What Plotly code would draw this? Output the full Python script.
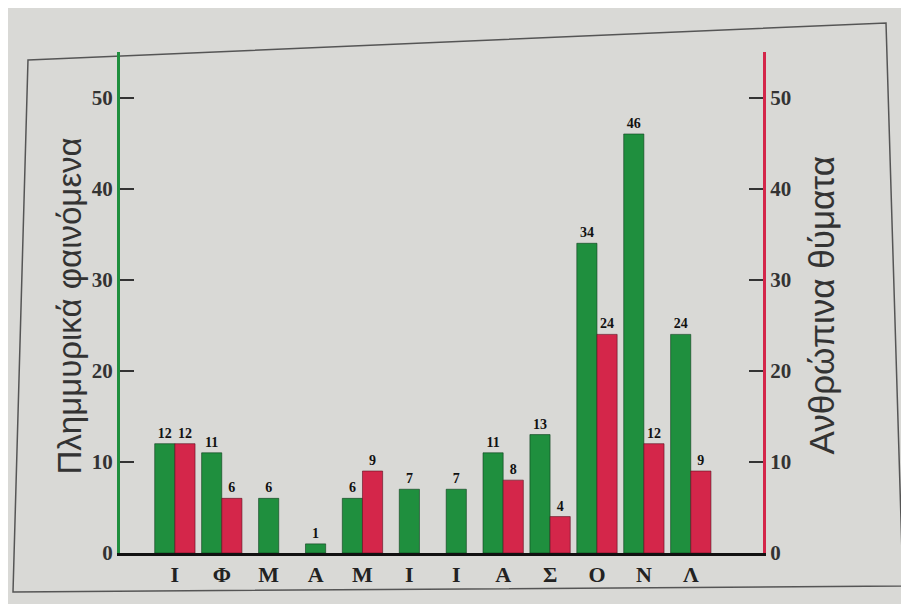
import plotly.graph_objects as go

months = ["Ι", "Φ", "Μ", "Α", "Μ", "Ι", "Ι", "Α", "Σ", "Ο", "Ν", "Λ"]
floods = [12, 11, 6, 1, 6, 7, 7, 11, 13, 34, 46, 24]
victims = [12, 6, None, None, 9, None, None, 8, 4, 24, 12, 9]

GREEN = "#1f8f3e"
RED = "#d4264a"
BG = "#d9d9d6"
W = 0.43

xs = list(range(len(months)))
green_off = [-W if v else -W / 2 for v in victims]

barfont = dict(family="Liberation Serif", size=14, color="#111", weight="bold")

fig = go.Figure()
fig.add_trace(go.Bar(
    x=xs, y=floods, width=W, offset=green_off,
    marker=dict(color=GREEN, line=dict(color="#0d3d1c", width=0.6)),
    text=floods, textposition="outside", cliponaxis=False, textfont=barfont,
    yaxis="y", name="Πλημμυρικά φαινόμενα", showlegend=False,
))
fig.add_trace(go.Bar(
    x=xs, y=victims, width=W, offset=0,
    marker=dict(color=RED, line=dict(color="#5a1020", width=0.6)),
    text=[v if v else "" for v in victims], textposition="outside", cliponaxis=False,
    textfont=barfont,
    yaxis="y2", name="Ανθρώπινα θύματα", showlegend=False,
))

tickfont = dict(family="Liberation Serif", size=21, color="#333", weight="bold")

fig.update_layout(
    width=909, height=604,
    margin=dict(l=112, r=154, t=44, b=59),
    paper_bgcolor=BG, plot_bgcolor=BG,
    barmode="overlay",
    xaxis=dict(
        range=[-1.17, 12.54], tickmode="array", tickvals=xs, ticktext=months,
        showgrid=False, zeroline=False, showline=True, linecolor="#111", linewidth=3,
        ticks="", tickfont=dict(family="Liberation Serif", size=22, color="#222", weight="bold"),
    ),
    yaxis=dict(
        range=[0, 55], tickvals=[0, 10, 20, 30, 40, 50], showgrid=False, zeroline=False,
        showline=True, linecolor=GREEN, linewidth=3, ticks="inside", ticklen=14,
        tickcolor="#333", tickwidth=1.5, tickfont=tickfont,
    ),
    yaxis2=dict(
        range=[0, 55], tickvals=[0, 10, 20, 30, 40, 50], overlaying="y", side="right",
        showgrid=False, zeroline=False, showline=True, linecolor=RED, linewidth=3,
        ticks="inside", ticklen=14, tickcolor="#333", tickwidth=1.5, tickfont=tickfont,
    ),
)

pw = 909 - 112 - 154
ph = 604 - 44 - 59


def px(x, y):
    return (x - 112) / pw, (604 - 59 - y) / ph


ax0, ay0 = px(40, 298)
ax1, ay1 = px(834, 298)
fig.add_annotation(text="Πλημμυρικά φαινόμενα", x=ax0, xref="paper", y=ay0, yref="paper",
                   textangle=-90, showarrow=False,
                   font=dict(family="Liberation Sans", size=33, color="#333"))
fig.add_annotation(text="Ανθρώπινα θύματα", x=ax1, xref="paper", y=ay1, yref="paper",
                   textangle=-90, showarrow=False,
                   font=dict(family="Liberation Sans", size=35, color="#333"))

pts = [px(20, 52), px(878, 15), px(895, 578), px(5, 584)]
path = "M " + " L ".join(f"{a:.4f},{b:.4f}" for a, b in pts) + " Z"
fig.add_shape(type="path", path=path, xref="paper", yref="paper",
              line=dict(color="#555", width=1.5), layer="below")

fig.write_html("out.html")
